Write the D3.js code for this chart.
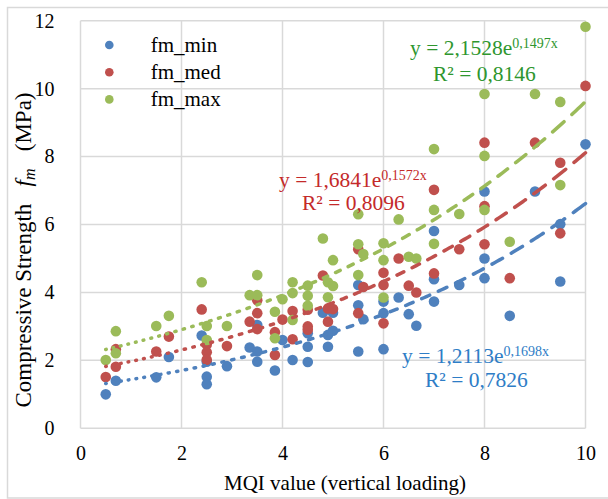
<!DOCTYPE html>
<html>
<head>
<meta charset="utf-8">
<script src="https://cdn.jsdelivr.net/npm/d3@7"></script>
<style>
  body { margin: 0; background: #fff; }
  svg text { white-space: pre; }
</style>
</head>
<body>
<div id="chart"></div>
<script>
// data
const minX = [0.5, 0.7, 1.5, 1.75, 2.4, 2.5, 2.5, 2.5, 2.9, 3.35, 3.5, 3.5, 3.5, 3.85, 4.0, 4.2, 4.5, 4.5, 4.5, 4.8, 4.9, 4.9, 5.0, 5.0, 5.5, 5.5, 5.5, 5.6, 6.0, 6.0, 6.0, 6.3, 6.5, 6.65, 7.0, 7.0, 7.0, 7.5, 8.0, 8.0, 8.0, 8.5, 9.0, 9.5, 9.5, 10];
const fmMin = [1.0, 1.4, 1.5, 2.1, 2.73, 1.96, 1.52, 1.3, 1.83, 2.38, 3.04, 2.26, 1.96, 1.7, 2.6, 2.01, 2.8, 2.4, 1.95, 3.4, 2.75, 2.4, 3.4, 2.87, 4.22, 3.62, 2.26, 3.21, 3.73, 3.39, 2.33, 3.85, 3.36, 3.02, 5.81, 4.39, 3.73, 4.22, 6.97, 5.0, 4.42, 3.31, 6.97, 6.01, 4.32, 8.36];

const medX = [0.5, 0.7, 0.7, 1.5, 1.75, 2.4, 2.5, 2.5, 2.5, 2.9, 3.35, 3.5, 3.5, 3.5, 3.85, 3.85, 4.0, 4.2, 4.2, 4.5, 4.5, 4.5, 4.8, 4.9, 4.9, 5.0, 5.5, 5.5, 5.6, 6.0, 6.0, 6.0, 6.3, 6.5, 6.65, 7.0, 7.0, 7.5, 8.0, 8.0, 8.0, 8.5, 9.0, 9.5, 9.5, 10];
const fmMed = [1.51, 1.81, 2.33, 2.26, 2.7, 3.5, 2.47, 2.24, 2.02, 2.42, 3.14, 3.77, 3.39, 2.92, 2.83, 2.16, 3.2, 3.45, 2.62, 3.49, 3.0, 2.9, 4.5, 3.53, 3.14, 3.51, 5.27, 3.39, 4.16, 4.58, 4.22, 3.09, 5.0, 4.2, 4.0, 7.02, 4.56, 5.27, 8.41, 6.54, 5.42, 4.42, 8.41, 7.82, 5.74, 10.08];

const maxX = [0.5, 0.7, 0.7, 1.5, 1.75, 2.4, 2.5, 2.5, 2.9, 3.35, 3.5, 3.5, 3.85, 3.85, 4.0, 4.2, 4.2, 4.2, 4.5, 4.5, 4.5, 4.8, 4.9, 4.9, 5.0, 5.0, 5.5, 5.5, 5.5, 5.6, 6.0, 6.0, 6.0, 6.3, 6.5, 6.65, 7.0, 7.0, 7.0, 7.5, 8.0, 8.0, 8.0, 8.5, 9.0, 9.5, 9.5, 10];
const fmMax = [2.01, 2.86, 2.21, 3.01, 3.31, 4.3, 3.01, 2.6, 3.01, 3.92, 4.51, 3.92, 3.43, 2.65, 3.8, 4.3, 3.98, 3.19, 4.2, 3.9, 3.61, 5.59, 4.3, 3.86, 4.95, 4.19, 6.3, 5.42, 4.51, 5.13, 5.45, 4.95, 3.85, 6.15, 5.05, 5.0, 8.22, 6.43, 5.43, 6.31, 9.84, 8.02, 6.43, 5.49, 9.84, 9.61, 7.16, 11.82];

const seriesNames = ["fm_min", "fm_med", "fm_max"];
const trendA = [1.2113, 1.6841, 2.1528];
const trendB = [0.1698, 0.1572, 0.1497];
const trendA_label = ["1,2113", "1,6841", "2,1528"];
const trendB_label = ["0,1698", "0,1572", "0,1497"];
const r2_label = ["0,7826", "0,8096", "0,8146"];
const xTicks = [0, 2, 4, 6, 8, 10];
const yTicks = [0, 2, 4, 6, 8, 10, 12];

const FONT = '"Liberation Serif", "Times New Roman", serif';

function main() {
    const W = 608, H = 499;
    const colors = ["#4F81BD", "#C0504D", "#9BBB59"];
    const eqColors = ["#2E7DC6", "#C42A2A", "#2E962E"];
    const grid = "#d9d9d9";

    const svg = d3.select("#chart")
        .append("svg")
            .attr("width", W)
            .attr("height", H)
            .style("font-family", FONT);

    // outer chart border
    svg.append("rect")
        .attr("x", 7.5).attr("y", 7.5)
        .attr("width", W).attr("height", 490.5)
        .attr("fill", "none")
        .attr("stroke", grid)
        .attr("stroke-width", 1.5);

    const x = d3.scaleLinear().domain([0, 10]).range([80.5, 585.5]);
    const y = d3.scaleLinear().domain([0, 12]).range([428.3, 20.7]);

    // gridlines
    svg.append("g").selectAll("line")
        .data(xTicks)
        .enter().append("line")
            .attr("x1", d => x(d)).attr("x2", d => x(d))
            .attr("y1", y(0)).attr("y2", y(12))
            .attr("stroke", grid).attr("stroke-width", 1.5);
    svg.append("g").selectAll("line")
        .data(yTicks)
        .enter().append("line")
            .attr("x1", x(0)).attr("x2", x(10))
            .attr("y1", d => y(d)).attr("y2", d => y(d))
            .attr("stroke", grid).attr("stroke-width", 1.5);

    // axes (labels only, lines are the grid)
    const xAxis = svg.append("g")
        .attr("transform", `translate(0, ${y(0)})`)
        .call(d3.axisBottom(x).tickValues(xTicks).tickSize(0).tickPadding(18));
    const yAxis = svg.append("g")
        .attr("transform", `translate(${x(0) - 26}, 0)`)
        .call(d3.axisLeft(y).tickValues(yTicks).tickSize(0).tickPadding(0));
    [xAxis, yAxis].forEach(a => {
        a.attr("font-family", null);
        a.select(".domain").remove();
        a.selectAll("text")
            .style("font-family", FONT)
            .attr("font-size", 20)
            .attr("fill", "#000");
    });

    // axis titles
    svg.append("text")
        .attr("x", 345).attr("y", 490)
        .attr("text-anchor", "middle")
        .attr("font-size", 21)
        .text("MQI value (vertical loading)");

    const yt = svg.append("text")
        .attr("transform", "translate(31, 250) rotate(-90)")
        .attr("text-anchor", "middle")
        .attr("font-size", 23);
    yt.append("tspan").text("Compressive Strength   ");
    yt.append("tspan").attr("font-style", "italic").text("f");
    yt.append("tspan").attr("font-style", "italic").attr("font-size", 16).attr("dy", 4).text("m");
    yt.append("tspan").attr("dy", -4).text("   (MPa)");

    // points
    const allX = [minX, medX, maxX];
    const allY = [fmMin, fmMed, fmMax];
    allX.forEach((xs, s) => {
        const pts = xs.map((v, i) => ({ x: v, y: allY[s][i] }));
        svg.append("g").selectAll("circle")
            .data(pts)
            .enter().append("circle")
                .attr("cx", d => x(d.x))
                .attr("cy", d => y(d.y))
                .attr("r", 5.3)
                .attr("fill", colors[s]);
    });

    // exponential trendlines, dash grows along the line
    const line = d3.line().x(d => x(d[0])).y(d => y(d[1]));
    trendA.forEach((a, s) => {
        const xs = d3.range(0.5, 10.0001, 0.05);
        const path = svg.append("path")
            .datum(xs.map(v => [v, a * Math.exp(trendB[s] * v)]))
            .attr("d", line)
            .attr("fill", "none")
            .attr("stroke", colors[s])
            .attr("stroke-width", 3.5)
            .attr("stroke-linecap", "round");
        const L = path.node().getTotalLength();
        const dash = [];
        let pos = 0;
        while (pos < L) {
            const t = pos / L;
            const d = 0.5 + 17 * Math.pow(t, 1.6);
            const g = 7 + 4 * t;
            dash.push(d.toFixed(1), g.toFixed(1));
            pos += d + g;
        }
        path.attr("stroke-dasharray", dash.join(","));
    });

    // equations
    const eqPos = [[402, 363, 425, 387], [279, 187, 302, 210], [410, 55, 433, 81]];
    eqPos.forEach((p, s) => {
        const t = svg.append("text")
            .attr("x", p[0]).attr("y", p[1])
            .attr("font-size", 21.5)
            .attr("fill", eqColors[s]);
        t.append("tspan").text(`y = ${trendA_label[s]}e`);
        t.append("tspan").attr("font-size", 14).attr("dy", -7).text(`${trendB_label[s]}x`);
        svg.append("text")
            .attr("x", p[2]).attr("y", p[3])
            .attr("font-size", 21.5)
            .attr("fill", eqColors[s])
            .text(`R² = ${r2_label[s]}`);
    });

    // legend
    const lg = svg.append("g");
    seriesNames.forEach((name, i) => {
        lg.append("circle")
            .attr("cx", 109.3).attr("cy", 45 + i * 27.2)
            .attr("r", 4.3)
            .attr("fill", colors[i]);
        lg.append("text")
            .attr("x", 150.7).attr("y", 52 + i * 27.2)
            .attr("font-size", 21)
            .text(name);
    });
}

main();
</script>
</body>
</html>
